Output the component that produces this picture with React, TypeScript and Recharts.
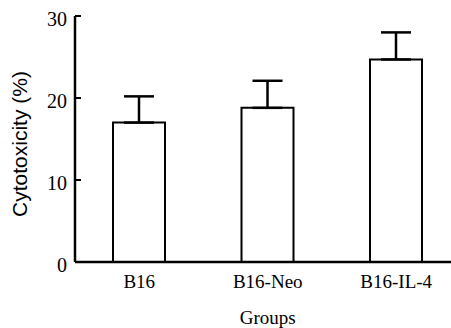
import React from 'react';
import { BarChart, Bar, XAxis, YAxis, ErrorBar } from 'recharts';

const categories = ['B16', 'B16-Neo', 'B16-IL-4'];
const cytotoxicity = [17, 18.8, 24.7];
const upperError = [3.2, 3.3, 3.3];
const yTicks = [0, 10, 20, 30];

const data = categories.map((name, i) => ({
  name,
  value: cytotoxicity[i],
  err: [0, upperError[i]],
}));

const SERIF = '"Liberation Serif", "Times New Roman", serif';
const SANS = '"Liberation Sans", Arial, sans-serif';

const YTick = (props: any) => {
  const { x, y, payload } = props;
  return (
    <g>
      <line x1={x + 8} x2={x + 14} y1={y} y2={y} stroke="#000" strokeWidth={2} />
      <text x={x} y={y} dy="0.5em" textAnchor="end" fontFamily={SERIF} fontSize={20} fill="#000">
        {payload.value}
      </text>
    </g>
  );
};

export default function App() {
  return (
    <div style={{ position: 'fixed', left: 0, top: 0, width: 451, height: 328, overflow: 'hidden', background: '#fff' }}>
      <BarChart
        width={470}
        height={328}
        data={data}
        margin={{ top: 16, right: 9.5, left: 0, bottom: 0 }}
      >
        <XAxis
          dataKey="name"
          height={66}
          axisLine={{ stroke: '#000', strokeWidth: 2.5 }}
          tickLine={false}
          tickSize={0}
          tickMargin={13}
          tick={{ fill: '#000', fontSize: 19, fontFamily: SERIF }}
          label={{ value: 'Groups', position: 'insideBottom', offset: 4, fill: '#000', fontSize: 19, fontFamily: SERIF }}
        />
        <YAxis
          width={75}
          domain={[0, 30]}
          ticks={yTicks}
          axisLine={{ stroke: '#000', strokeWidth: 2.5 }}
          tickLine={false}
          tickSize={0}
          tickMargin={8}
          tick={<YTick />}
          label={{
            value: 'Cytotoxicity (%)',
            angle: -90,
            position: 'insideLeft',
            offset: 20,
            dy: 5,
            fill: '#000',
            fontSize: 21,
            fontFamily: SANS,
            style: { textAnchor: 'middle' },
          }}
        />
        <Bar dataKey="value" barSize={52} fill="#fff" stroke="#000" strokeWidth={2} isAnimationActive={false}>
          <ErrorBar dataKey="err" direction="y" width={15} stroke="#000" strokeWidth={2.5} isAnimationActive={false} />
        </Bar>
      </BarChart>
    </div>
  );
}
